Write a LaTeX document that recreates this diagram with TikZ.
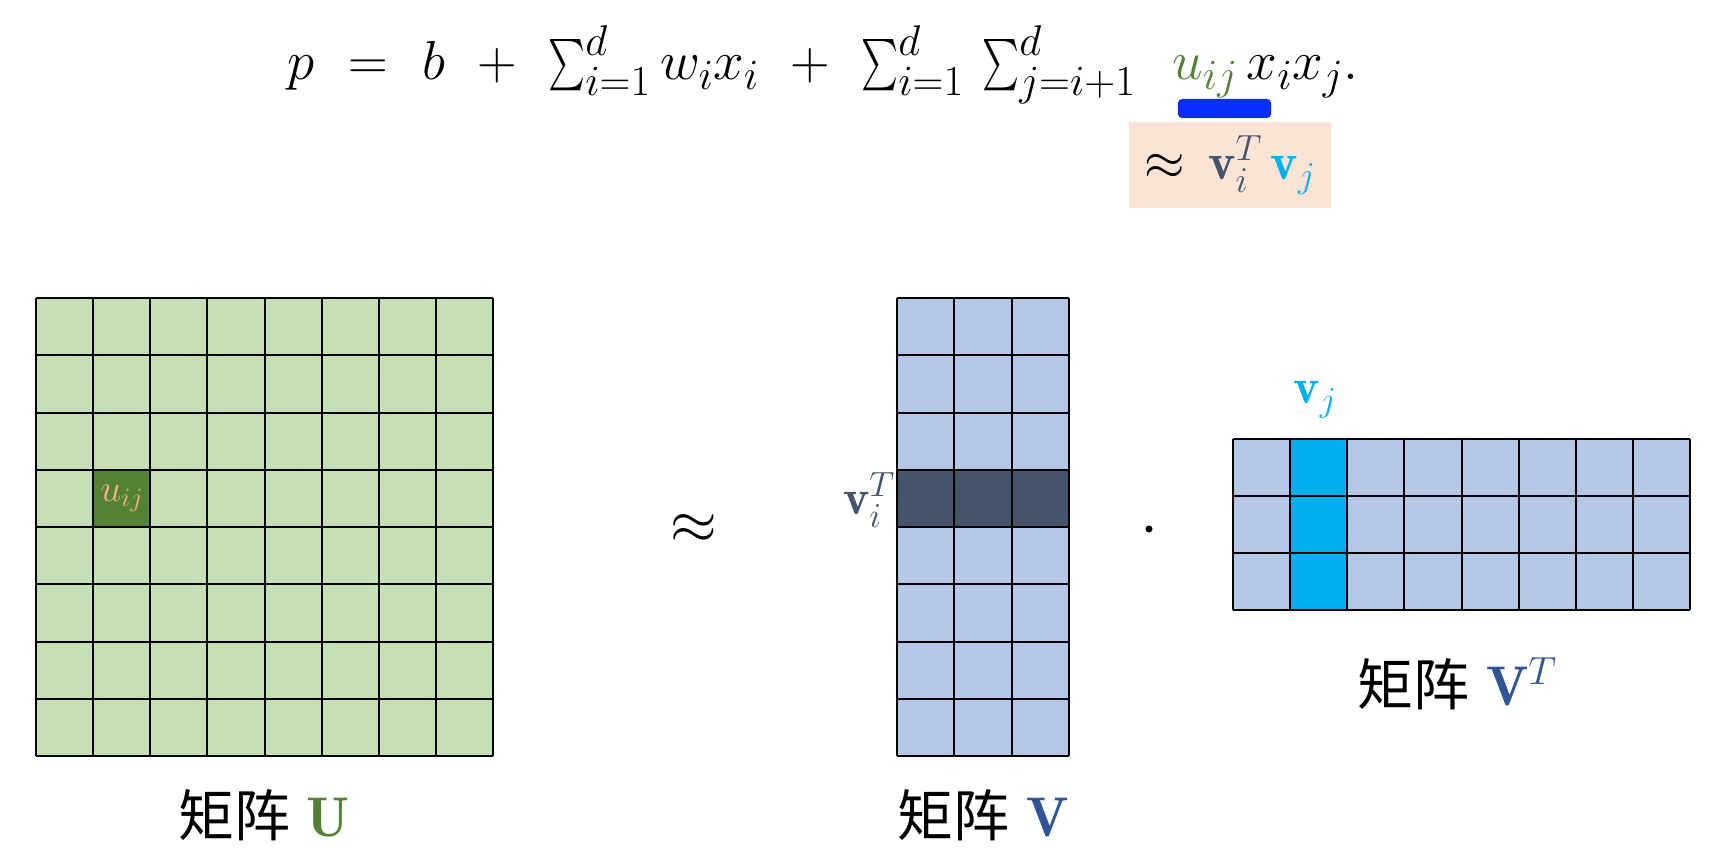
\RequirePackage{fix-cm}
\documentclass[tikz,border=0pt]{standalone}
\usepackage{graphicx}
\usepackage{amsmath}
\usepackage{fontspec}
\newfontfamily\cjk{Noto Sans CJK SC}
\DeclareMathSizes{55}{55}{43}{33}
\newcommand\bigsum{\mathop{\vcenter{\hbox{\resizebox{37pt}{54pt}{$\textstyle\sum$}}}}\nolimits}
\newcommand\opgap{\hspace{0.35em}}
\definecolor{ugreen}{HTML}{C5E0B4}
\definecolor{udark}{HTML}{548235}
\definecolor{vblue}{HTML}{B4C7E7}
\definecolor{vdark}{HTML}{44546A}
\definecolor{vcyan}{HTML}{00B0F0}
\definecolor{upeach}{HTML}{F4B183}
\definecolor{boxpeach}{HTML}{FBE3D6}
\definecolor{barblue}{HTML}{0A2EFF}
\definecolor{vlabel}{HTML}{2F5597}
\tikzset{
  gridline/.style={line width=2pt, draw=black},
  bigtext/.style={inner sep=0pt, font=\fontsize{55}{64}\selectfont},
  lbltext/.style={inner sep=0pt, font=\fontsize{56}{66}\selectfont},
}
\begin{document}
\begin{tikzpicture}[x=1pt,y=-1pt]
\useasboundingbox (0,0) rectangle (1718,864);
\fill[white] (0,0) rectangle (1718,864);

% formula
\node[bigtext, anchor=base west] (formula) at (287,80)
  {$p\opgap=\opgap b\opgap+\opgap\bigsum_{i=1}^{d} w_i x_i\opgap+\opgap\bigsum_{i=1}^{d}\,\bigsum_{j=i+1}^{d}\hspace{0.5em}{\color{udark}u_{ij}}\,x_i x_j.$};
\fill[barblue, rounded corners=4pt] (1178,99) rectangle (1271,118);
\fill[boxpeach] (1129,122) rectangle (1331,208);
\node[inner sep=0pt, font=\fontsize{52}{62}\selectfont] (approx) at (1230,165)
  {$\approx\,{\color{vdark}\mathbf{v}_i^T}\,{\color{vcyan}\mathbf{v}_j}$};

% matrix U
\fill[ugreen] (36,298) rectangle (493,756);
\fill[udark] (93.125,469.75) rectangle (150.25,527);
\foreach \i in {0,...,8} \draw[gridline] ({36+\i*57.125},298) -- ({36+\i*57.125},756);
\foreach \j in {0,...,8} \draw[gridline] (36,{298+\j*57.25}) -- (493,{298+\j*57.25});
\node[inner sep=0pt, font=\fontsize{38}{42}\selectfont, text=upeach] (uij) at (121.7,498.4) {$u_{ij}$};
\node[lbltext, anchor=base] (labU) at (264,836) {\cjk 矩阵\hspace{0.3em}{\color{udark}$\mathbf{U}$}};

% approx sign
\node[inner sep=0pt, font=\fontsize{60}{70}\selectfont] (apx) at (694,529) {$\approx$};

% matrix V
\fill[vblue] (897,298) rectangle (1069,756);
\fill[vdark] (897,469.75) rectangle (1069,527);
\foreach \i in {0,...,3} \draw[gridline] ({897+\i*57.333},298) -- ({897+\i*57.333},756);
\foreach \j in {0,...,8} \draw[gridline] (897,{298+\j*57.25}) -- (1069,{298+\j*57.25});
\node[inner sep=0pt, font=\fontsize{50}{60}\selectfont, text=vdark, anchor=east] (viT) at (895,500) {$\mathbf{v}_i^T$};
\node[lbltext, anchor=base] (labV) at (983,836) {\cjk 矩阵\hspace{0.3em}{\color{vlabel}$\mathbf{V}$}};

% dot
\fill[black] (1149,529) circle (3.5pt);

% matrix V^T
\fill[vblue] (1233,439) rectangle (1690,610);
\fill[vcyan] (1290.1,439) rectangle (1347.25,610);
\foreach \i in {0,...,8} \draw[gridline] ({1233+\i*57.125},439) -- ({1233+\i*57.125},610);
\foreach \j in {0,...,3} \draw[gridline] (1233,{439+\j*57}) -- (1690,{439+\j*57});
\node[inner sep=0pt, font=\fontsize{50}{60}\selectfont, text=vcyan] (vj) at (1315,400) {$\mathbf{v}_j$};
\node[lbltext, anchor=base] (labVT) at (1457,705) {\cjk 矩阵\hspace{0.3em}{\color{vlabel}$\mathbf{V}^T$}};
\end{tikzpicture}
\end{document}
